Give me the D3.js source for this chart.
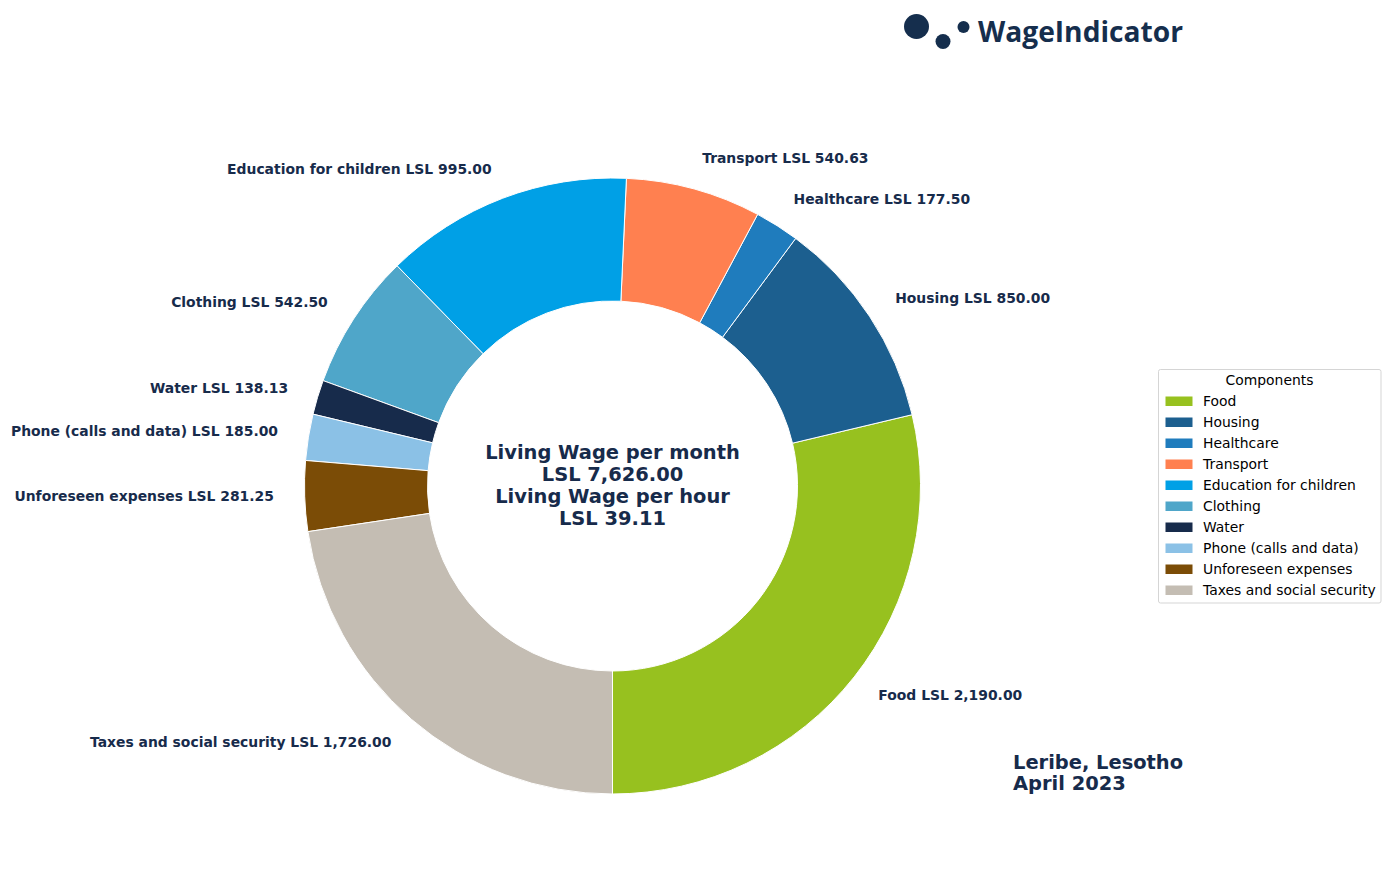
<!DOCTYPE html>
<html>
<head>
<meta charset="utf-8">
<script src="https://cdn.jsdelivr.net/npm/d3@7"></script>
<style>
  body { margin: 0; background: #fff; }
  text { font-family: "DejaVu Sans", sans-serif; }
</style>
</head>
<body>
<svg id="chart" width="1390" height="881"></svg>
<script>
// Values
var categories = ["Food", "Housing", "Healthcare", "Transport", "Education for children",
  "Clothing", "Water", "Phone (calls and data)", "Unforeseen expenses", "Taxes and social security"];
var amounts = [2190, 850, 177.5, 540.63, 995, 542.5, 138.13, 185, 281.25, 1726];
var colors = ["#97c11f", "#1c5f8f", "#1f7cbd", "#ff8050", "#00a0e6",
  "#4fa6c9", "#172b4b", "#8bc1e6", "#7b4c06", "#c4bdb3"];
var centerLines = ["Living Wage per month", "LSL 7,626.00", "Living Wage per hour", "LSL 39.11"];
var placeLines = ["Leribe, Lesotho", "April 2023"];

var dark = "#172b4b";
var svg = d3.select("#chart");
var fmt = d3.format(",.2f");

// Donut starts at the bottom and runs counter-clockwise
var cx = 612.5, cy = 486, outer = 308, inner = 185;
var pie = d3.pie().sort(null).startAngle(Math.PI).endAngle(-Math.PI);
var arc = d3.arc().innerRadius(inner).outerRadius(outer);
var slices = pie(amounts);

var g = svg.append("g").attr("transform", `translate(${cx},${cy})`);

g.selectAll("path")
  .data(slices)
  .enter()
  .append("path")
  .attr("d", arc)
  .attr("fill", (d, i) => colors[i])
  .attr("stroke", "#fff")
  .attr("stroke-width", 1);

// Slice labels sit at 1.1 x radius, anchored away from the donut
g.selectAll("text.label")
  .data(slices)
  .enter()
  .append("text")
  .attr("class", "label")
  .attr("x", d => 1.1 * outer * Math.sin((d.startAngle + d.endAngle) / 2))
  .attr("y", d => -1.1 * outer * Math.cos((d.startAngle + d.endAngle) / 2))
  .attr("dy", "0.3em")
  .attr("text-anchor", d => Math.sin((d.startAngle + d.endAngle) / 2) > 0 ? "start" : "end")
  .attr("font-size", 13.9)
  .attr("font-weight", "bold")
  .attr("fill", dark)
  .text((d, i) => `${categories[i]} LSL ${fmt(amounts[i])}`);

// Center text
centerLines.forEach((line, i) => {
  g.append("text")
    .attr("x", 0)
    .attr("y", -34 + i * 22)
    .attr("dy", "0.36em")
    .attr("text-anchor", "middle")
    .attr("font-size", 19.45)
    .attr("font-weight", "bold")
    .attr("fill", dark)
    .text(line);
});

// Place and date
placeLines.forEach((line, i) => {
  svg.append("text")
    .attr("x", 1013)
    .attr("y", 769 + i * 21)
    .attr("font-size", 19.45)
    .attr("font-weight", "bold")
    .attr("fill", dark)
    .text(line);
});

// Legend
var legend = svg.append("g").attr("transform", "translate(1158.5,369.5)");
legend.append("rect")
  .attr("width", 222.5)
  .attr("height", 233.5)
  .attr("rx", 2)
  .attr("fill", "#fff")
  .attr("stroke", "#d5d5d5");
legend.append("text")
  .attr("x", 111)
  .attr("y", 15.5)
  .attr("text-anchor", "middle")
  .attr("font-size", 13.9)
  .attr("fill", "#000")
  .text("Components");

var rows = legend.selectAll("g.row")
  .data(categories)
  .enter()
  .append("g")
  .attr("class", "row")
  .attr("transform", (d, i) => `translate(0,${31.5 + i * 21})`);
rows.append("rect")
  .attr("x", 7)
  .attr("y", -4.5)
  .attr("width", 27)
  .attr("height", 9.5)
  .attr("fill", (d, i) => colors[i]);
rows.append("text")
  .attr("x", 44.5)
  .attr("y", 0)
  .attr("dy", "0.36em")
  .attr("font-size", 13.9)
  .attr("fill", "#000")
  .text(d => d);

// Logo
var logoColor = "#152e4d";
var logo = svg.append("g");
logo.selectAll("circle")
  .data([[916.5, 26.5, 12.5], [943, 41.5, 7.5], [963.5, 27, 6]])
  .enter()
  .append("circle")
  .attr("cx", d => d[0])
  .attr("cy", d => d[1])
  .attr("r", d => d[2])
  .attr("fill", logoColor);
logo.append("text")
  .attr("x", 978)
  .attr("y", 42)
  .attr("font-size", 29)
  .attr("font-weight", "bold")
  .attr("textLength", 205)
  .attr("lengthAdjust", "spacingAndGlyphs")
  .attr("fill", logoColor)
  .style("font-family", "'Open Sans', sans-serif")
  .text("WageIndicator");
</script>
</body>
</html>
